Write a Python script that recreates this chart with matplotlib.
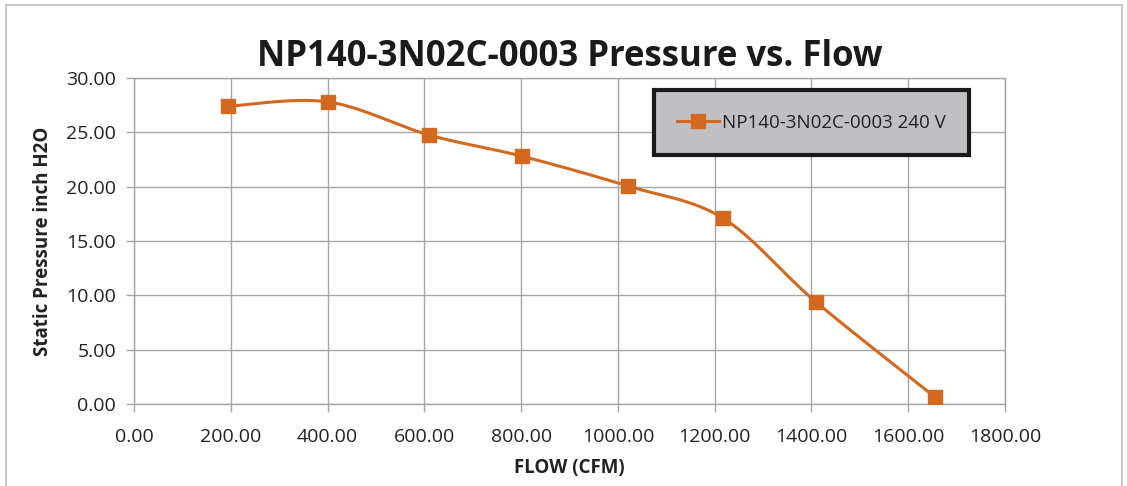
import numpy as np
import matplotlib.pyplot as plt
from matplotlib.patches import Rectangle

plt.rcParams['font.family'] = ['Open Sans', 'DejaVu Sans']

# data
flow = [194, 401, 610, 802, 1021, 1217, 1409, 1655]
pressure = [27.4, 27.8, 24.75, 22.8, 20.05, 17.1, 9.4, 0.65]
series_name = 'NP140-3N02C-0003 240 V'
x_ticks = [0, 200, 400, 600, 800, 1000, 1200, 1400, 1600, 1800]
y_ticks = [0, 5, 10, 15, 20, 25, 30]

orange = '#D2691F'
grid_c = '#A6A6A6'


def smooth_curve(x, y, n=40):
    # Catmull-Rom style bezier, like the spreadsheet "smoothed line"
    x = np.asarray(x, float)
    y = np.asarray(y, float)
    px = np.concatenate([[x[0]], x, [x[-1]]])
    py = np.concatenate([[y[0]], y, [y[-1]]])
    xs, ys = [], []
    t = np.linspace(0, 1, n)
    for i in range(1, len(px) - 2):
        p0 = np.array([px[i], py[i]])
        p3 = np.array([px[i + 1], py[i + 1]])
        p1 = p0 + (np.array([px[i + 1], py[i + 1]]) - np.array([px[i - 1], py[i - 1]])) / 6
        p2 = p3 - (np.array([px[i + 2], py[i + 2]]) - np.array([px[i], py[i]])) / 6
        b = ((1 - t) ** 3)[:, None] * p0 + (3 * (1 - t) ** 2 * t)[:, None] * p1 \
            + (3 * (1 - t) * t ** 2)[:, None] * p2 + (t ** 3)[:, None] * p3
        xs.extend(b[:, 0])
        ys.extend(b[:, 1])
    return xs, ys


fig = plt.figure(figsize=(11.27, 4.86), dpi=100)
ax = fig.add_axes([0.1189, 0.1687, 0.7729, 0.6708])

# outer chart border
fig.patches.append(Rectangle((0.005, -0.01), 0.991, 1.0, transform=fig.transFigure,
                             fill=False, edgecolor='#BDBDBD', linewidth=1.2))

sx, sy = smooth_curve(flow, pressure)
ax.plot(sx, sy, color=orange, linewidth=2.2, zorder=3)
ax.plot(flow, pressure, linestyle='none', marker='s', markersize=10,
        color=orange, zorder=4)
# proxy for legend
ax.plot([], [], color=orange, linewidth=2.2, marker='s', markersize=10, label=series_name)

ax.set_xlim(0, 1800)
ax.set_ylim(0, 30)
ax.set_xticks(x_ticks)
ax.set_yticks(y_ticks)
ax.set_xticklabels([f'{v:.2f}' for v in x_ticks])
ax.set_yticklabels([f'{v:.2f}' for v in y_ticks])
ax.grid(True, color=grid_c, linewidth=1)
ax.set_axisbelow(True)
for s in ax.spines.values():
    s.set_color(grid_c)
    s.set_linewidth(1)
ax.tick_params(axis='both', colors=grid_c, length=6, width=1, labelsize=14,
               labelcolor='#222222', direction='out')
ax.tick_params(axis='x', pad=11)
ax.tick_params(axis='y', pad=7)

ax.set_title('NP140-3N02C-0003 Pressure vs. Flow', fontsize=25, fontweight='bold',
             color='#1A1A1A', pad=9)
ax.set_xlabel('FLOW (CFM)', fontsize=13.5, fontweight='bold', color='#222222', labelpad=9)
ax.set_ylabel('Static Pressure inch H2O', fontsize=13.5, fontweight='bold', color='#222222',
              labelpad=9)

leg = ax.legend(loc='upper left', bbox_to_anchor=(0.597, 0.963),
                fontsize=13.5, frameon=True, fancybox=False, borderpad=1.25,
                handlelength=2.2, handletextpad=0.15, borderaxespad=0)
leg.get_frame().set_facecolor('#C0C0C4')
leg.get_frame().set_edgecolor('#1A1A1A')
leg.get_frame().set_linewidth(3)
leg.get_frame().set_alpha(1)
for txt in leg.get_texts():
    txt.set_color('#222222')

fig.savefig('out.png', dpi=100)
